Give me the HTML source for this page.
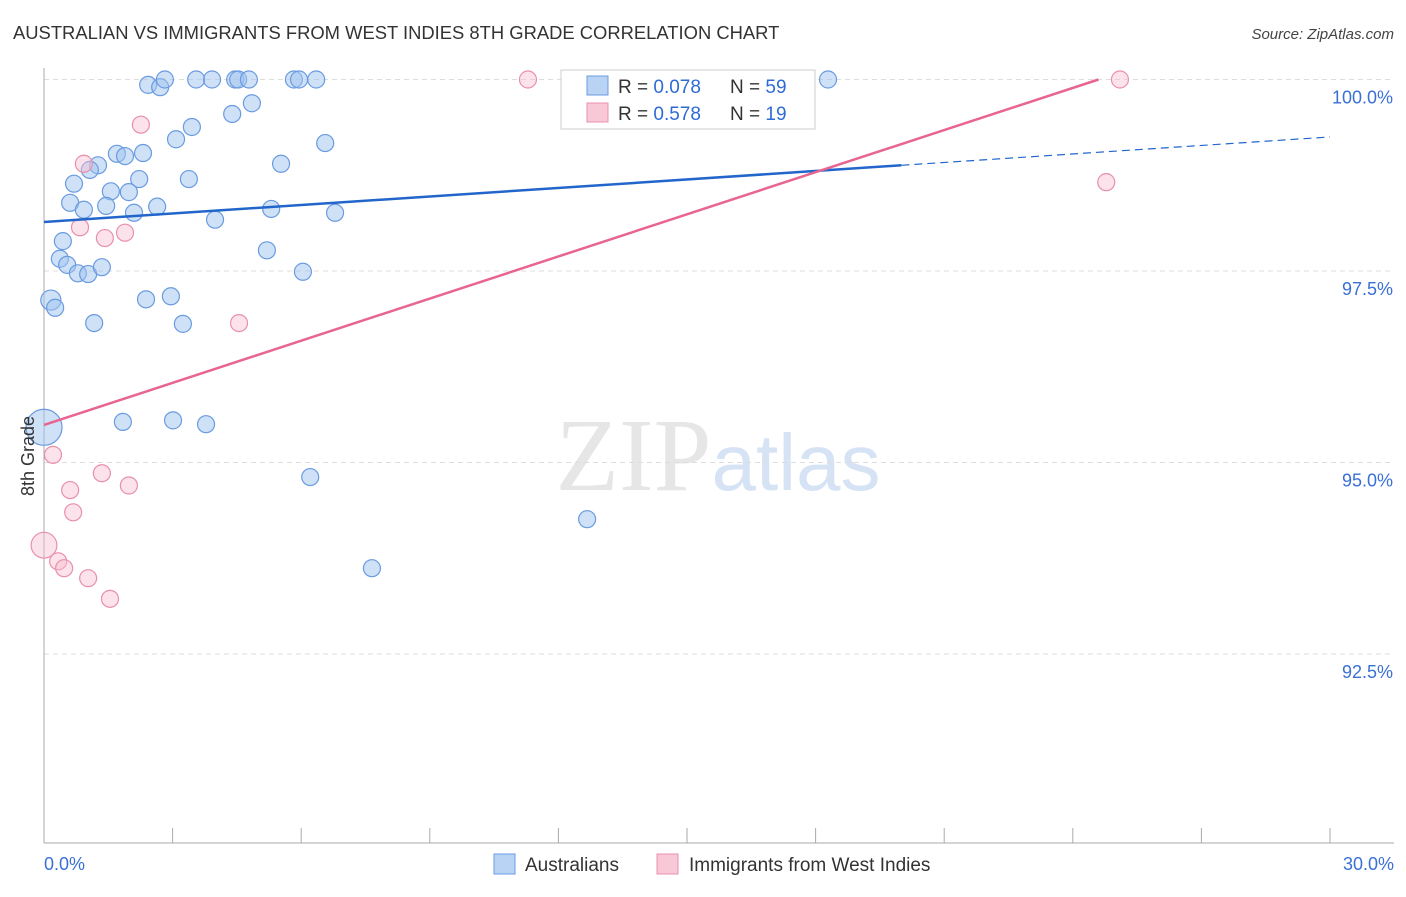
<!DOCTYPE html>
<html><head><meta charset="utf-8"><style>
body{margin:0;background:#fff;font-family:"Liberation Sans",sans-serif;}
svg text{font-family:"Liberation Sans",sans-serif;}
</style></head><body>
<svg id="chart" width="1406" height="892" xmlns="http://www.w3.org/2000/svg">
<text x="13" y="39" font-size="18.4" fill="#333">AUSTRALIAN VS IMMIGRANTS FROM WEST INDIES 8TH GRADE CORRELATION CHART</text>
<text x="1394" y="39" font-size="15" fill="#444" text-anchor="end" font-style="italic">Source: ZipAtlas.com</text>
<text x="718" y="490" font-size="104" text-anchor="middle" fill="#e6e6e6"><tspan font-family="Liberation Serif">ZIP</tspan><tspan fill="#d6e3f5" font-size="80">atlas</tspan></text>
<g id="grid"></g><g id="axes"></g><g id="pts"></g><g id="lines"></g>
<text transform="translate(34,456) rotate(-90)" font-size="18" fill="#333" text-anchor="middle">8th Grade</text>
<g>
<rect x="561" y="70" width="254" height="59" fill="#fff" stroke="#ccc"/>
<rect x="587" y="76" width="21" height="19" fill="#b9d3f5" stroke="#6a9be0"/>
<rect x="587" y="103" width="21" height="19" fill="#f9c8d7" stroke="#e890ab"/>
<text x="618" y="93" font-size="19" fill="#333">R = <tspan fill="#2f6bd4">0.078</tspan><tspan x="730">N = </tspan><tspan fill="#2f6bd4">59</tspan></text>
<text x="618" y="120" font-size="19" fill="#333">R = <tspan fill="#2f6bd4">0.578</tspan><tspan x="730">N = </tspan><tspan fill="#2f6bd4"> 19</tspan></text>
</g>
<g>
<rect x="494" y="854" width="21" height="20" fill="#b9d3f5" stroke="#6a9be0"/>
<text x="525" y="871" font-size="19" fill="#333">Australians</text>
<rect x="657" y="854" width="21" height="20" fill="#f9c8d7" stroke="#e890ab"/>
<text x="689" y="871" font-size="19" fill="#333">Immigrants from West Indies</text>
</g>
</svg>
<script>
const yTicks=[100,97.5,95,92.5];
const yTickLabels=["100.0%","97.5%","95.0%","92.5%"];
const xTickLabels=["0.0%","30.0%"];
const blueX=[2.43,2.71,2.82,3.55,3.92,4.46,4.53,4.78,5.83,5.95,6.35,18.29,12.34,4.85,4.39,3.45,3.08,6.56,2.31,1.70,1.89,1.26,1.07,5.53,0.70,2.22,3.38,1.56,1.98,0.61,2.64,1.45,0.93,2.10,5.30,6.79,3.99,0.44,5.20,0.37,0.54,0.79,1.03,1.35,6.04,0.16,0.26,2.38,2.96,1.17,3.24,1.84,3.01,3.78,0,6.21,12.67,7.65];
const blueY=[99.93,99.90,100,100,100,100,100,100,100,100,100,100,100,99.69,99.55,99.38,99.22,99.17,99.04,99.03,99.00,98.88,98.82,98.90,98.64,98.70,98.70,98.54,98.53,98.39,98.34,98.35,98.30,98.26,98.31,98.26,98.17,97.89,97.77,97.66,97.58,97.47,97.46,97.55,97.49,97.12,97.02,97.13,97.17,96.82,96.81,95.53,95.55,95.50,95.46,94.81,94.26,93.62];
const blueW=[1,1,1,1,1,1,1,1,1,1,1,1,1,1,1,1,1,1,1,1,1,1,1,1,1,1,1,1,1,1,1,1,1,1,1,1,1,1,1,1,1,1,1,1,1,1.4,1,1,1,1,1,1,1,1,4.5,1,1,1];
const pinkX=[11.29,25.10,2.26,0.93,0.84,1.42,1.89,4.55,24.78,0.21,1.35,1.98,0.61,0.68,0,0.33,0.47,1.03,1.54];
const pinkY=[100,100,99.41,98.90,98.07,97.93,98.00,96.82,98.66,95.10,94.86,94.70,94.64,94.35,93.92,93.71,93.62,93.49,93.22];
const pinkW=[1,1,1,1,1,1,1,1,1,1,1,1,1,1,2.3,1,1,1,1];
const blueTrend=[98.14,99.25];
const pinkTrend=[95.49,100];
const X0=44,X1=1330;
const xs=v=>X0+v*(X1-X0)/30;
const ys=v=>79.5+(100-v)*76.6;
const NS="http://www.w3.org/2000/svg";
function mk(tag,attrs,parent){const e=document.createElementNS(NS,tag);for(const k in attrs)e.setAttribute(k,attrs[k]);document.getElementById(parent).appendChild(e);return e;}
yTicks.forEach((t,i)=>{
 const l=mk('line',{x1:X0,x2:1394,y1:ys(t),y2:ys(t),stroke:'#ddd','stroke-dasharray':'5,4'},'grid');
 
 
 const tx=mk('text',{x:1393,y:ys(t)+24,'font-size':18,fill:'#3a70d6','text-anchor':'end'},'grid');tx.textContent=yTickLabels[i];
 
 
});
const ax=mk('line',{x1:X0,x2:X0,y1:68,y2:843,stroke:'#aaa'},'axes');


const bx=mk('line',{x1:X0,x2:1394,y1:843,y2:843,stroke:'#aaa'},'axes');


for(let i=0;i<=10;i++){const t=mk('line',{x1:xs(i*3),x2:xs(i*3),y1:828,y2:843,stroke:'#aaa'},'axes');
 
 }
[[0,'start',X0],[1,'end',1394]].forEach(([i,a,x])=>{const t=mk('text',{x:x,y:870,'font-size':18,fill:'#3a70d6','text-anchor':a},'axes');t.textContent=xTickLabels[i];
 
 });
function pts(X,Y,W,fill,stroke,name){X.forEach((v,i)=>{const c=mk('circle',{cx:xs(v),cy:ys(Y[i]),r:8.5*Math.sqrt(W[i]),fill:fill,stroke:stroke,'stroke-width':1.2},'pts');
 
 });}
pts(blueX,blueY,blueW,'rgba(160,196,240,0.5)','#6a9be0','australians-point');
pts(pinkX,pinkY,pinkW,'rgba(248,190,208,0.45)','#e890ab','west-indies-point');
const bs=(blueTrend[1]-blueTrend[0])/30;
const b1=mk('line',{x1:xs(0),y1:ys(blueTrend[0]),x2:xs(20),y2:ys(blueTrend[0]+bs*20),stroke:'#2266cc','stroke-width':2.5},'lines');


const b2=mk('line',{x1:xs(20),y1:ys(blueTrend[0]+bs*20),x2:xs(30),y2:ys(blueTrend[1]),stroke:'#2266cc','stroke-width':1.2,'stroke-dasharray':'8,5'},'lines');


const p1=mk('line',{x1:xs(0),y1:ys(pinkTrend[0]),x2:xs(24.6),y2:ys(pinkTrend[1]),stroke:'#e8658f','stroke-width':2.5},'lines');


</script>
</body></html>
